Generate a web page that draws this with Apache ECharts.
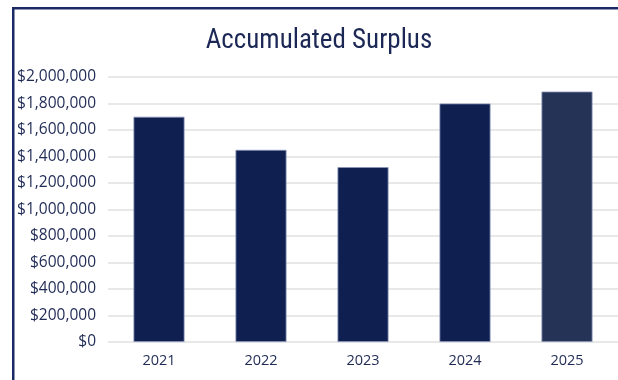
<!DOCTYPE html>
<html>
<head>
<meta charset="utf-8">
<script src="https://cdn.jsdelivr.net/npm/echarts@6/dist/echarts.min.js"></script>
<style>
html,body{margin:0;padding:0;background:#fff;}
#chart{width:618px;height:380px;}
</style>
</head>
<body>
<div id="chart"></div>
<script>
const categories = ['2021', '2022', '2023', '2024', '2025'];
const values = [1700000, 1450000, 1320000, 1800000, 1890000];
const barColors = ['#0F1F50', '#0F1F50', '#0F1F50', '#0F1F50', '#253456'];
const titleText = 'Accumulated Surplus';

const chart = echarts.init(document.getElementById('chart'), null, {renderer: 'canvas'});
function fmt(v) {
  return '$' + v.toString().replace(/\B(?=(\d{3})+(?!\d))/g, ',');
}
chart.setOption({
  animation: false,
  title: {
    text: titleText,
    left: 314, top: 23, textAlign: 'center',
    textStyle: {
      fontFamily: '"Liberation Sans Narrow", "Roboto Condensed", Roboto, sans-serif',
      fontWeight: 'normal', fontSize: 27, color: '#1B2754'
    }
  },
  graphic: [
    {type: 'rect', shape: {x: 12, y: 7, width: 606, height: 2.5}, style: {fill: '#1B2A66'}},
    {type: 'rect', shape: {x: 12, y: 7, width: 2.5, height: 373}, style: {fill: '#1B2A66'}}
  ],
  grid: {left: 108, right: -2, top: 77, bottom: 38},
  xAxis: {
    type: 'category',
    data: categories,
    axisLine: {show: false},
    axisTick: {show: false},
    axisLabel: {
      margin: 11, fontSize: 14.5, color: '#1F2A55',
      fontFamily: '"Open Sans", sans-serif'
    }
  },
  yAxis: {
    type: 'value',
    min: 0, max: 2000000, interval: 200000,
    axisLine: {show: false},
    axisTick: {show: false},
    splitLine: {lineStyle: {color: '#e0e0e0', width: 1.5}},
    axisLabel: {
      margin: 12, fontSize: 15.5, color: '#1F2A55',
      fontFamily: '"Open Sans", sans-serif',
      formatter: fmt
    }
  },
  series: [{
    type: 'bar',
    barWidth: '50%',
    data: values.map((v, i) => ({
      value: v,
      itemStyle: {color: barColors[i], borderColor: '#8A94B8', borderWidth: 0.8}
    }))
  }]
});
</script>
</body>
</html>
